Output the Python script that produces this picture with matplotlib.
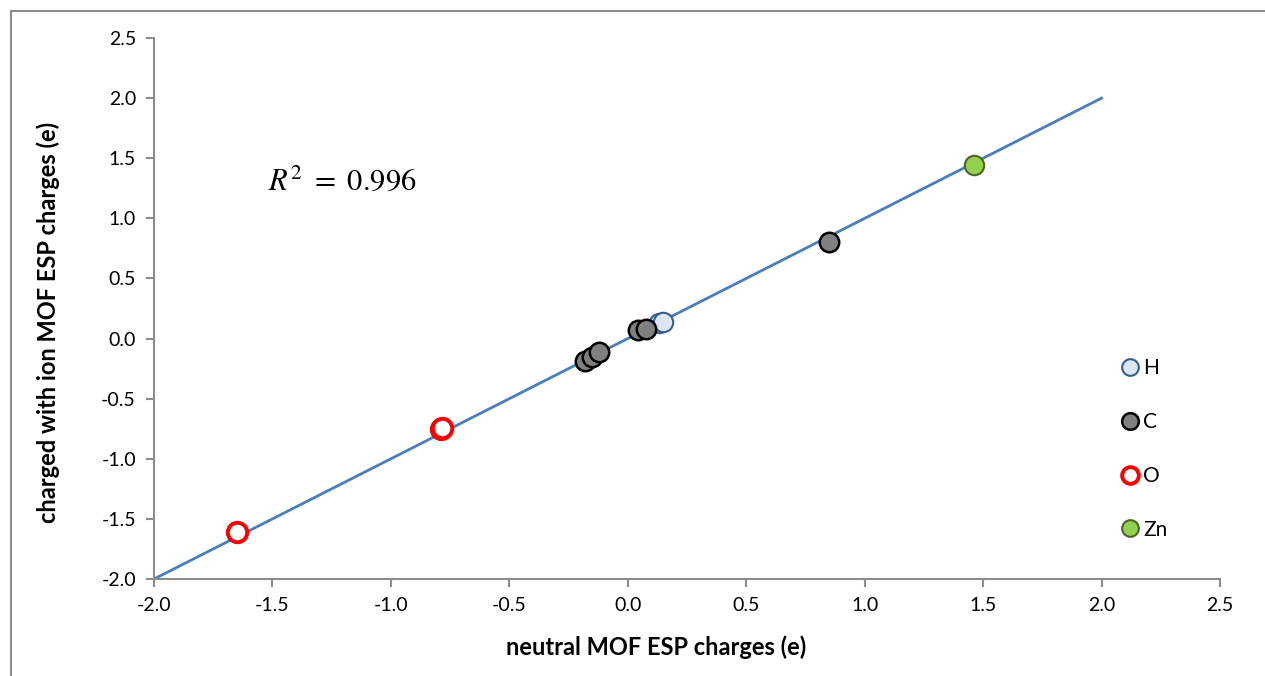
import numpy as np
import matplotlib.pyplot as plt
from matplotlib.lines import Line2D

# charges per element: neutral MOF (x) vs charged with ion (y)
h_x = [0.13, 0.15]
h_y = [0.126, 0.14]
c_x = [-0.18, -0.15, -0.12, 0.045, 0.075, 0.85]
c_y = [-0.19, -0.15, -0.11, 0.07, 0.08, 0.80]
o_x = [-1.65, -0.79, -0.785]
o_y = [-1.61, -0.75, -0.745]
zn_x = [1.46]
zn_y = [1.44]

fit_x = [-2.0, 2.0]
fit_y = [-2.0, 2.0]
r2 = 0.996

ticks = np.arange(-2.0, 2.51, 0.5)

plt.rcParams['font.family'] = ['Lato', 'DejaVu Sans']
plt.rcParams['mathtext.fontset'] = 'stix'

fig = plt.figure(figsize=(12.65, 6.76), dpi=100)
ax = fig.add_axes([154/1265, 1 - 579/676, (1220 - 154)/1265, (579 - 38)/676])

# outer frame (left and top edges only)
fig.add_artist(Line2D([11/1265, 11/1265], [0, 1 - 11/676], color='#8c8c8c', lw=1.5))
fig.add_artist(Line2D([11/1265, 1], [1 - 11/676, 1 - 11/676], color='#8c8c8c', lw=1.5))

ax.plot(fit_x, fit_y, color='#4a7ebb', lw=2, zorder=1)

ms = 14
ax.plot(h_x, h_y, 'o', ms=ms, mfc='#dce6f2', mec='#385d8a', mew=1.5, ls='none', zorder=2)
ax.plot(c_x, c_y, 'o', ms=ms, mfc='#808080', mec='black', mew=1.8, ls='none', zorder=3)
ax.plot(o_x, o_y, 'o', ms=ms, mfc='white', mec='#ff0000', mew=2.8, ls='none', zorder=4)
ax.plot(zn_x, zn_y, 'o', ms=ms, mfc='#92d050', mec='#4f6228', mew=1.5, ls='none', zorder=4)

ax.set_xlim(-2.0, 2.5)
ax.set_ylim(-2.0, 2.5)
ax.set_xticks(ticks)
ax.set_yticks(ticks)
ax.set_xticklabels(['%.1f' % t for t in ticks])
ax.set_yticklabels(['%.1f' % t for t in ticks])
ax.tick_params(axis='both', labelsize=14, length=6, width=1.5, color='#8c8c8c',
               direction='out', pad=7)
for s in ['top', 'right']:
    ax.spines[s].set_visible(False)
for s in ['left', 'bottom']:
    ax.spines[s].set_color('#8c8c8c')
    ax.spines[s].set_linewidth(1.5)

fig.text(656/1265, 1 - 647/676, 'neutral MOF ESP charges (e)', ha='center', va='center',
         fontsize=17, fontweight='bold')
fig.text(48/1265, 1 - 322/676, 'charged with ion MOF ESP charges (e)', ha='center', va='center',
         rotation=90, fontsize=17, fontweight='bold')

ax.text(268/1265, 1 - 180/676, r'$R^2\ =\ %.3f$' % r2, transform=fig.transFigure,
        ha='left', va='center', fontsize=22)

handles = [
    Line2D([], [], marker='o', ls='none', ms=12, mfc='#dce6f2', mec='#385d8a', mew=1.5, label='H'),
    Line2D([], [], marker='o', ls='none', ms=12, mfc='#808080', mec='black', mew=1.8, label='C'),
    Line2D([], [], marker='o', ls='none', ms=12, mfc='white', mec='#ff0000', mew=2.8, label='O'),
    Line2D([], [], marker='o', ls='none', ms=12, mfc='#92d050', mec='#4f6228', mew=1.5, label='Zn'),
]
ax.legend(handles=handles, loc='upper left', bbox_to_anchor=(1111/1265, 1 - 348/676),
          bbox_transform=fig.transFigure, frameon=False, fontsize=15,
          handlelength=0.8, handletextpad=0.25, labelspacing=1.62, borderpad=0)

fig.savefig('out.png', dpi=100)
